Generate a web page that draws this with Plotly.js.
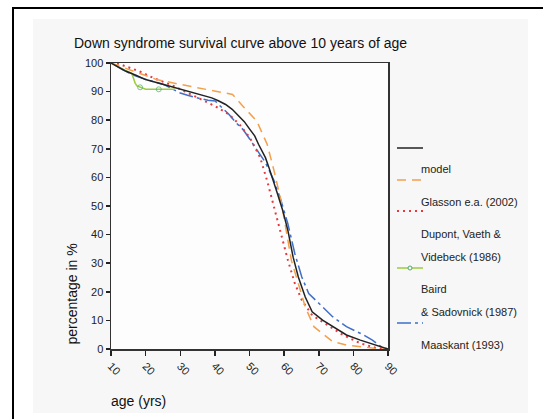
<!DOCTYPE html>
<html>
<head>
<meta charset="utf-8">
<script src="https://cdn.plot.ly/plotly-3.0.1.min.js"></script>
<style>
  html, body { margin:0; padding:0; background:#ffffff; }
  #wrap { position:relative; width:543px; height:419px; overflow:hidden; }
  #frameTop { position:absolute; left:12px; top:7px; width:531px; height:2px; background:#000; }
  #frameLeft { position:absolute; left:12px; top:7px; width:2px; height:412px; background:#000; }
  #panel { position:absolute; left:33px; top:19px; width:495px; height:394px; background:#f7f7f7; }
  #chart { position:absolute; left:0; top:0; width:543px; height:419px; }
</style>
</head>
<body>
<div id="wrap">
  <div id="frameTop"></div>
  <div id="frameLeft"></div>
  <div id="panel"></div>
  <div id="chart"></div>
</div>
<script>
// ---- data ----
const seriesNames = ["model", "Glasson e.a. (2002)", "Dupont, Vaeth & Videbeck (1986)", "Baird & Sadovnick (1987)", "Maaskant (1993)"];

const ageModel = [10,12,14,17.2,20,25.2,28,32.1,36,39.1,41,43.1,45,47.1,48.5,50.1,51.5,52.6,53.6,54.6,55.6,56.6,58.1,59.6,61.1,62.6,64.1,66.1,68.1,71.1,75,78,82,86,90];
const pctModel = [100,98.5,97.3,95.7,94.2,92.5,91.5,90.1,88.9,87.8,86.8,85.5,83.8,81.4,79.5,76.8,74.5,71.6,69.5,66.9,63.5,60.0,54.2,48.4,41.4,32.1,25.2,18.2,13.0,10.1,7.2,4.9,3.1,1.6,0];

const ageGlasson = [10,14,18.2,23.2,30.1,38.1,45.1,48.1,52.1,55.1,57.1,59.1,60.6,62.1,64.1,66.1,68.6,71.1,74,78,83,88,90];
const pctGlasson = [100,98.3,96.5,94.2,92.5,90.7,89.0,84.9,79.7,71.6,62.3,51.9,41.4,31.0,22.9,14.7,7.8,5.5,2.6,1.4,0.6,0,0];

const ageDupont = [10,12.2,15,18.2,22.2,28.2,34.1,40.1,44.1,47.1,50.1,53.1,55.1,57.1,59.1,61.1,63.1,65.1,68.1,72,77,82,87,90];
const pctDupont = [100,99.7,98.5,97.1,94.8,91.9,88.4,84.9,82.0,78.5,73.9,66.9,58.8,49.5,40.3,31.0,22.9,17.1,11.8,8.9,4.9,2.0,0.2,0];

const ageBaird = [10,12,14,16,16.5,17,17.5,18.4,20,23.8,28.5];
const pctBaird = [100,98.6,97.5,96.4,94.5,92.9,92.0,91.5,90.8,90.8,90.8];
const markBaird = [0,0,0,0,0,0,0,1,0,1,0];   // which points carry a circle marker

const ageMaaskant = [10,14.2,17,20.2,25.2,28.2,30,32.1,34,36,38,40.1,42.1,44.1,46.1,48.1,50,52.1,54.6,57.1,59.1,61.1,63.1,65.1,67.1,70.1,74,78,83,85.5,88,90];
const pctMaaskant = [100,97.1,95.5,94.2,92.5,90.7,89.5,88.7,88.0,87.5,87.0,86.7,84.3,82.0,79.1,76.8,73.5,69.8,65.2,58.8,51.9,43.7,33.3,25.2,19.4,15.9,11.3,7.8,4.9,3.1,0.8,0];

const xTicks = [10,20,30,40,50,60,70,80,90];
const yTicks = [0,10,20,30,40,50,60,70,80,90,100];

// legend text lines as they appear (line sample above text)
const legendLines = ["model", "Glasson e.a. (2002)", "Dupont, Vaeth &", "Videbeck (1986)", "Baird", "& Sadovnick (1987)", "Maaskant (1993)"];

// ---- styling ----
const FONT = "Liberation Sans, Arial, sans-serif";
const colors = { model:"#222222", glasson:"#f3a04c", dupont:"#e8383d", baird:"#9ccc3c", maaskant:"#3f6fc9" };
const styles = [
  {color:colors.model, dash:"solid", width:1.5},
  {color:colors.glasson, dash:"9px,6px", width:1.5},
  {color:colors.dupont, dash:"2px,4px", width:2},
  {color:colors.baird, dash:"solid", width:1.5},
  {color:colors.maaskant, dash:"14px,4px,3px,4px", width:1.5}
];

// plot area in px
const W = 543, H = 419;
const PL = 111, PR = 388, PT = 63, PB = 349;
const px2x = p => (p - PL) / (PR - PL);
const py2y = p => (PB - p) / (PB - PT);

const traces = [
  {x:ageModel, y:pctModel, name:seriesNames[0], mode:"lines", line:styles[0]},
  {x:ageGlasson, y:pctGlasson, name:seriesNames[1], mode:"lines", line:styles[1]},
  {x:ageDupont, y:pctDupont, name:seriesNames[2], mode:"lines", line:styles[2]},
  {x:ageBaird, y:pctBaird, name:seriesNames[3], mode:"lines+markers", line:styles[3],
   marker:{symbol:"circle-open", size:markBaird.map(m => m ? 5 : 0), color:"#4fa86a", line:{width:1, color:"#4fa86a"}}},
  {x:ageMaaskant, y:pctMaaskant, name:seriesNames[4], mode:"lines", line:styles[4]}
];
// draw order: blue, green, red, orange, black on top
const ordered = [traces[4], traces[3], traces[2], traces[1], traces[0]];

// manual legend
const legSampleY = [148, 180, 211, 268, 323];
const legTextY = [169, 202, 234, 257, 289, 312, 345];
const shapes = [];
legSampleY.forEach((py, i) => {
  shapes.push({type:"line", xref:"paper", yref:"paper",
    x0:px2x(397), x1:px2x(423), y0:py2y(py), y1:py2y(py),
    line:{color:styles[i].color, width:styles[i].width, dash:styles[i].dash}});
});
// green sample marker
shapes.push({type:"circle", xref:"paper", yref:"paper",
  x0:px2x(408), x1:px2x(412), y0:py2y(266), y1:py2y(270),
  fillcolor:"#ffffff", line:{color:"#4fa86a", width:1}});

const annotations = legendLines.map((t, i) => ({
  text:t, xref:"paper", yref:"paper", x:px2x(419), y:py2y(legTextY[i]),
  xanchor:"left", yanchor:"middle", showarrow:false,
  font:{family:FONT, size:11, color:"#222"}
}));
annotations.push({text:"Down syndrome survival curve above 10 years of age", xref:"paper", yref:"paper",
  x:px2x(72), y:py2y(43), xanchor:"left", yanchor:"middle", showarrow:false,
  font:{family:FONT, size:14, color:"#111"}});
annotations.push({text:"percentage in %", xref:"paper", yref:"paper", textangle:-90,
  x:px2x(71), y:py2y(347), xanchor:"center", yanchor:"bottom", showarrow:false,
  font:{family:FONT, size:14, color:"#111"}});
annotations.push({text:"age (yrs)", xref:"paper", yref:"paper",
  x:px2x(109), y:py2y(401), xanchor:"left", yanchor:"middle", showarrow:false,
  font:{family:FONT, size:14, color:"#111"}});

const layout = {
  width:W, height:H,
  margin:{l:PL, r:W-PR, t:PT, b:H-PB, pad:0},
  paper_bgcolor:"rgba(0,0,0,0)",
  plot_bgcolor:"#fdfdfd",
  showlegend:false,
  font:{family:FONT, size:11, color:"#222"},
  xaxis:{range:[10,90], tickvals:xTicks, ticktext:xTicks.map(String), tickangle:45,
    ticks:"outside", ticklen:5, tickwidth:1.5, tickcolor:"#222",
    showline:true, linecolor:"#333", linewidth:1.5, mirror:true,
    showgrid:false, zeroline:false, tickfont:{family:FONT, size:11, color:"#222"}},
  yaxis:{range:[0,100], tickvals:yTicks, ticktext:yTicks.map(String),
    ticks:"outside", ticklen:4, tickwidth:1.5, tickcolor:"#222",
    showline:true, linecolor:"#333", linewidth:1.5, mirror:true,
    showgrid:false, zeroline:false, tickfont:{family:FONT, size:11, color:"#222"}},
  shapes:shapes,
  annotations:annotations
};

Plotly.newPlot("chart", ordered, layout, {staticPlot:true, displayModeBar:false});
</script>
</body>
</html>
